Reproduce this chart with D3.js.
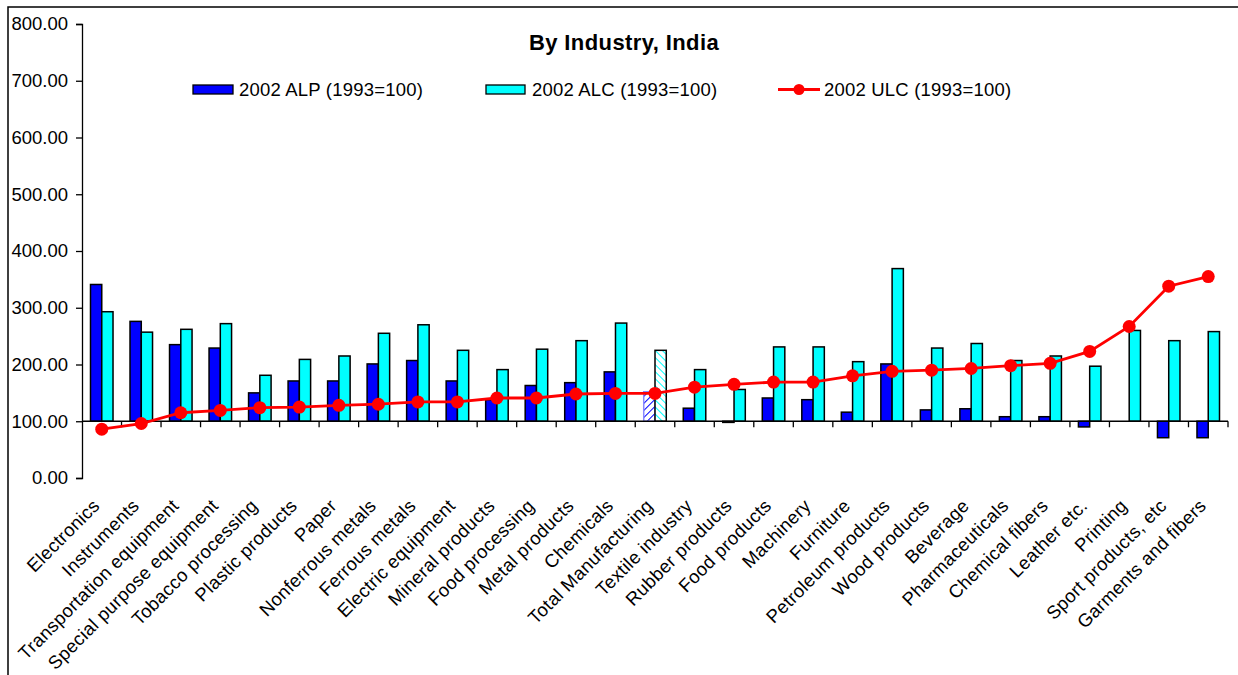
<!DOCTYPE html>
<html>
<head>
<meta charset="utf-8">
<script src="https://cdn.jsdelivr.net/npm/d3@7/dist/d3.min.js"></script>
<style>
  body { margin: 0; background: #fff; }
  svg text { font-family: Arial, "Liberation Sans", sans-serif; fill: #000; }
</style>
</head>
<body>
<svg id="chart" width="1238" height="675"></svg>
<script>
var industries = ['Electronics', 'Instruments', 'Transportation equipment', 'Special purpose equipment',
  'Tobacco processing', 'Plastic products', 'Paper', 'Nonferrous metals', 'Ferrous metals',
  'Electric equipment', 'Mineral products', 'Food processing', 'Metal products', 'Chemicals',
  'Total Manufacturing', 'Textile industry', 'Rubber products', 'Food products', 'Machinery',
  'Furniture', 'Petroleum products', 'Wood products', 'Beverage', 'Pharmaceuticals',
  'Chemical fibers', 'Leather etc.', 'Printing', 'Sport products, etc', 'Garments and fibers'];

var alp = [341, 276, 235, 229, 150, 171, 171, 201, 207, 171, 138, 163, 168, 187,
  152, 123, 98, 141, 138, 116, 201, 120, 122, 108, 108, 90, 100, 71, 71];

var alc = [293, 257, 262, 272, 181, 209, 215, 255, 270, 225, 191, 227, 242, 273,
  225, 191, 156, 231, 231, 205, 369, 229, 237, 207, 215, 197, 260, 242, 258];

var ulc = [86, 96, 115, 119, 124, 125, 128, 130, 134, 134, 141, 141, 148, 149,
  149, 160, 165, 169, 169, 180, 188, 190, 193, 198, 202, 223, 267, 338, 355];

var yTicks = [0, 100, 200, 300, 400, 500, 600, 700, 800];
var highlight = 'Total Manufacturing';

var seriesNames = ['2002 ALP (1993=100)', '2002 ALC (1993=100)', '2002 ULC (1993=100)'];

var colors = {alp: '#0000ff', alc: '#00ffff', ulc: '#ff0000'};

var svg = d3.select('#chart');

// outer chart frame
svg.append('rect')
  .attr('x', 8).attr('y', 7)
  .attr('width', 1250).attr('height', 700)
  .attr('fill', 'none').attr('stroke', '#000').attr('stroke-width', 1.5);

var plot = {left: 82, right: 1228, top: 24, bottom: 478};

var x = d3.scaleBand()
  .domain(industries)
  .range([plot.left, plot.right])
  .padding(0);

var y = d3.scaleLinear()
  .domain([0, 800])
  .range([plot.bottom, plot.top]);

var barW = x.bandwidth() * 0.285;
var base = y(100);

// hatch patterns for the total manufacturing bars
var defs = svg.append('defs');
function hatch(id, color, angle) {
  var p = defs.append('pattern')
    .attr('id', id)
    .attr('patternUnits', 'userSpaceOnUse')
    .attr('width', 5).attr('height', 5)
    .attr('patternTransform', 'rotate(' + angle + ')');
  p.append('rect').attr('width', 5).attr('height', 5).attr('fill', '#fff');
  p.append('line')
    .attr('x1', 0).attr('y1', 0).attr('x2', 0).attr('y2', 5)
    .attr('stroke', color).attr('stroke-width', 2);
}
hatch('hatchAlp', colors.alp, 45);
hatch('hatchAlc', colors.alc, -45);

// value axis
var yAxis = d3.axisLeft(y)
  .tickValues(yTicks)
  .tickFormat(d3.format('.2f'))
  .tickSize(6)
  .tickPadding(8);

var gy = svg.append('g')
  .attr('transform', 'translate(' + plot.left + ',0)')
  .call(yAxis);
gy.select('.domain').attr('stroke', '#000').attr('stroke-width', 1.3);
gy.selectAll('.tick line').attr('stroke', '#000').attr('stroke-width', 1.3);
gy.selectAll('.tick text').attr('font-size', 18.5);

// bars, drawn from the 100 baseline
var groups = svg.append('g').selectAll('g')
  .data(industries)
  .enter().append('g');

groups.append('rect')
  .attr('x', function(d) { return x(d) + x.bandwidth() / 2 - barW; })
  .attr('y', function(d, i) { return Math.min(y(alp[i]), base); })
  .attr('width', barW)
  .attr('height', function(d, i) { return Math.abs(y(alp[i]) - base); })
  .attr('fill', function(d) { return d === highlight ? 'url(#hatchAlp)' : colors.alp; })
  .attr('stroke', function(d) { return d === highlight ? '#8888ff' : '#000'; })
  .attr('stroke-width', 1.5);

groups.append('rect')
  .attr('x', function(d) { return x(d) + x.bandwidth() / 2; })
  .attr('y', function(d, i) { return Math.min(y(alc[i]), base); })
  .attr('width', barW)
  .attr('height', function(d, i) { return Math.abs(y(alc[i]) - base); })
  .attr('fill', function(d) { return d === highlight ? 'url(#hatchAlc)' : colors.alc; })
  .attr('stroke', '#000')
  .attr('stroke-width', 1.5);

// category axis crosses at 100
var gx = svg.append('g');
gx.append('line')
  .attr('x1', plot.left).attr('x2', plot.right)
  .attr('y1', base).attr('y2', base)
  .attr('stroke', '#000').attr('stroke-width', 1.3);
gx.selectAll('line.tick')
  .data(industries)
  .enter().append('line')
  .attr('class', 'tick')
  .attr('x1', function(d) { return x(d) + x.bandwidth(); })
  .attr('x2', function(d) { return x(d) + x.bandwidth(); })
  .attr('y1', base).attr('y2', base + 6)
  .attr('stroke', '#000').attr('stroke-width', 1.3);

// labels sit below the plot, rotated
svg.append('g').selectAll('text')
  .data(industries)
  .enter().append('text')
  .attr('transform', function(d) {
    return 'translate(' + (x(d) + x.bandwidth() / 2 - 1) + ',507) rotate(-45)';
  })
  .attr('text-anchor', 'end')
  .attr('font-size', 18.5)
  .attr('letter-spacing', 0.3)
  .text(function(d) { return d; });

// ULC line
var line = d3.line()
  .x(function(d, i) { return x(industries[i]) + x.bandwidth() / 2; })
  .y(function(d) { return y(d); });

svg.append('path')
  .datum(ulc)
  .attr('d', line)
  .attr('fill', 'none')
  .attr('stroke', colors.ulc)
  .attr('stroke-width', 2.8);

svg.append('g').selectAll('circle')
  .data(ulc)
  .enter().append('circle')
  .attr('cx', function(d, i) { return x(industries[i]) + x.bandwidth() / 2; })
  .attr('cy', function(d) { return y(d); })
  .attr('r', 6.5)
  .attr('fill', colors.ulc);

// title
svg.append('text')
  .attr('x', 624).attr('y', 50)
  .attr('text-anchor', 'middle')
  .attr('font-size', 22)
  .attr('font-weight', 'bold')
  .attr('letter-spacing', 0.4)
  .text('By Industry, India');

// legend
var legend = svg.append('g');
legend.append('rect')
  .attr('x', 193).attr('y', 85).attr('width', 40).attr('height', 9)
  .attr('fill', colors.alp).attr('stroke', '#000').attr('stroke-width', 1.3);
legend.append('text')
  .attr('x', 239).attr('y', 96).attr('font-size', 18.5)
  .attr('letter-spacing', 0.2)
  .text(seriesNames[0]);

legend.append('rect')
  .attr('x', 486).attr('y', 85).attr('width', 39).attr('height', 9)
  .attr('fill', colors.alc).attr('stroke', '#000').attr('stroke-width', 1.3);
legend.append('text')
  .attr('x', 532).attr('y', 96).attr('font-size', 18.5)
  .attr('letter-spacing', 0.2)
  .text(seriesNames[1]);

legend.append('line')
  .attr('x1', 778).attr('x2', 820).attr('y1', 89.5).attr('y2', 89.5)
  .attr('stroke', colors.ulc).attr('stroke-width', 2.8);
legend.append('circle')
  .attr('cx', 799).attr('cy', 89.5).attr('r', 5.5)
  .attr('fill', colors.ulc);
legend.append('text')
  .attr('x', 824).attr('y', 96).attr('font-size', 18.5)
  .attr('letter-spacing', 0.2)
  .text(seriesNames[2]);
</script>
</body>
</html>
